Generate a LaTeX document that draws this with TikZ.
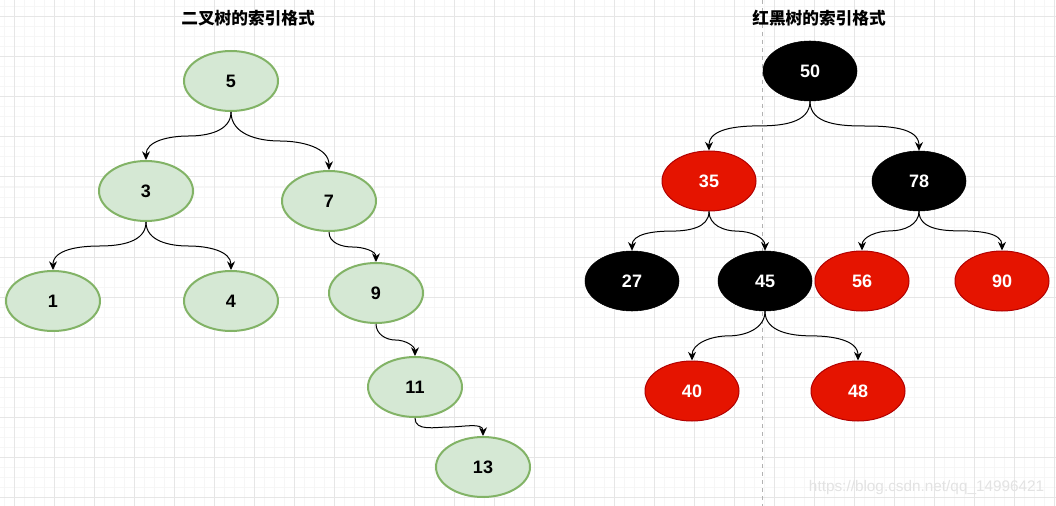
\documentclass[tikz,border=0pt]{standalone}
\usepackage{fontspec}
\setmainfont{Liberation Sans}
\newfontfamily\cjk{Noto Sans CJK SC}
\usetikzlibrary{arrows.meta,shapes.geometric,calc}

\definecolor{gnfill}{HTML}{D5E8D4}
\definecolor{gnline}{HTML}{82B366}
\definecolor{rdfill}{HTML}{E51400}
\definecolor{rdline}{HTML}{B20000}
\definecolor{majorgrid}{HTML}{E6E6E6}
\definecolor{minorgrid}{HTML}{F6F6F6}

\tikzset{
  tnode/.style={ellipse, minimum width=70.5pt, minimum height=45pt, inner sep=0pt,
    font=\bfseries\fontsize{13.5}{15}\selectfont},
  green node/.style={tnode, fill=gnfill, draw=gnline, line width=1.5pt},
  red node/.style={tnode, fill=rdfill, draw=rdline, line width=0.75pt, text=white},
  black node/.style={tnode, fill=black, draw=black, text=white},
  edge/.style={line width=0.75pt, -{Stealth[length=6.5pt,width=6pt]}},
  title/.style={font=\cjk\bfseries\fontsize{12.5}{14}\selectfont},
}

% curved links, parent -> left / right child
\newcommand{\linkL}[2]{\draw[edge] (#1.south) to[out=-90,in=0] ($(#1.south)!0.5!(#2.north)$) to[out=180,in=90] (#2.north);}
\newcommand{\linkR}[2]{\draw[edge] (#1.south) to[out=-90,in=180] ($(#1.south)!0.5!(#2.north)$) to[out=0,in=90] (#2.north);}

\begin{document}
\begin{tikzpicture}[x=0.75pt,y=-0.75pt]
        \useasboundingbox (0,0) rectangle (1056,506);
        \fill[white] (0,0) rectangle (1056,506);

        % grid
        \foreach \x in {4,14,...,1054} \draw[minorgrid, line width=0.75pt] (\x,0) -- (\x,506);
        \foreach \y in {7,17,...,506} \draw[minorgrid, line width=0.75pt] (0,\y) -- (1056,\y);
        \foreach \x in {14,54,...,1054} \draw[majorgrid, line width=0.75pt] (\x,0) -- (\x,506);
        \foreach \y in {17,57,...,506} \draw[majorgrid, line width=0.75pt] (0,\y) -- (1056,\y);

        \draw[gray!60, dashed, line width=0.75pt] (762,0) -- (762,506);

        \node[title] (t1) at (248,18) {二叉树的索引格式};
        \node[title] (t2) at (819,18) {红黑树的索引格式};

        % binary tree
        \node[green node] (n5) at (231,81) {5};
        \node[green node] (n3) at (146,191) {3};
        \node[green node] (n7) at (329,201) {7};
        \node[green node] (n1) at (53,301) {1};
        \node[green node] (n4) at (231,301) {4};
        \node[green node] (n9) at (376,293) {9};
        \node[green node] (n11) at (415,387) {11};
        \node[green node] (n13) at (483,467) {13};

        \linkL{n5}{n3}
        \linkR{n5}{n7}
        \linkL{n3}{n1}
        \linkR{n3}{n4}
        \linkR{n7}{n9}
        \linkR{n9}{n11}
        \linkR{n11}{n13}

        % red-black tree
        \node[black node] (r50) at (810,71) {50};
        \node[red node] (r35) at (709,181) {35};
        \node[black node] (r78) at (919,181) {78};
        \node[black node] (r27) at (632,281) {27};
        \node[black node] (r45) at (765,281) {45};
        \node[red node] (r56) at (862,281) {56};
        \node[red node] (r90) at (1002,281) {90};
        \node[red node] (r40) at (692,391) {40};
        \node[red node] (r48) at (858,391) {48};

        \linkL{r50}{r35}
        \linkR{r50}{r78}
        \linkL{r35}{r27}
        \linkR{r35}{r45}
        \linkL{r78}{r56}
        \linkR{r78}{r90}
        \linkL{r45}{r40}
        \linkR{r45}{r48}

        \node[anchor=east, text=gray!22, font=\fontsize{11.5}{13}\selectfont] (wm) at (1049,488) {https://blog.csdn.net/qq\_14996421};
\end{tikzpicture}
\end{document}
